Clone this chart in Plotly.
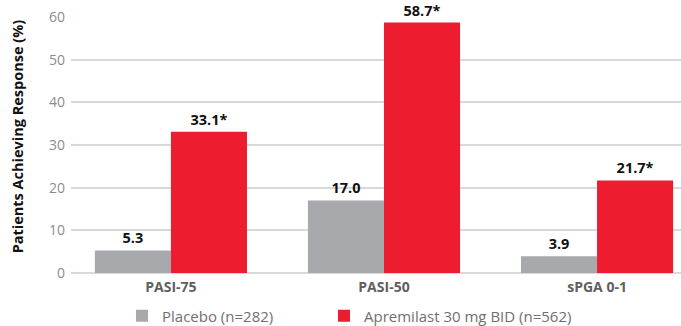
import plotly.graph_objects as go

categories = ["PASI-75", "PASI-50", "sPGA 0-1"]
placebo = [5.3, 17.0, 3.9]
apremilast = [33.1, 58.7, 21.7]
apremilast_marks = ["*", "*", "*"]
series_names = ["Placebo (n=282)", "Apremilast 30 mg BID (n=562)"]
y_ticks = [0, 10, 20, 30, 40, 50, 60]

GRAY = "#A7A9AC"
RED = "#ED1C2E"
FONT = "Open Sans"
W, H = 681, 326

x_pos = list(range(len(categories)))
label_font = dict(family=FONT, size=14.5, color="#111111", weight="bold")

fig = go.Figure()
fig.add_trace(go.Bar(
    x=x_pos, y=placebo, name=series_names[0], legend="legend",
    marker=dict(color=GRAY, line=dict(width=0)),
    text=[f"{v:.1f}" for v in placebo], textposition="outside",
    textfont=label_font, cliponaxis=False,
))
fig.add_trace(go.Bar(
    x=x_pos, y=apremilast, name=series_names[1], legend="legend2",
    marker=dict(color=RED, line=dict(width=0)),
    text=[f"{v:.1f}{m}" for v, m in zip(apremilast, apremilast_marks)],
    textposition="outside",
    textfont=label_font, cliponaxis=False,
))

legend_common = dict(
    orientation="h", xanchor="left", xref="container",
    y=(H - 316) / H, yanchor="middle", yref="container",
    font=dict(family=FONT, size=15, color="#6f6f6f"),
    itemsizing="constant", itemwidth=30,
)

fig.update_layout(
    width=W, height=H,
    margin=dict(l=71, r=0, t=17, b=53, autoexpand=False),
    paper_bgcolor="white", plot_bgcolor="white",
    barmode="group", bargap=0.286, bargroupgap=0,
    font=dict(family=FONT, color="#7f7f7f"),
    showlegend=True,
    legend=dict(x=122 / W, **legend_common),
    legend2=dict(x=324 / W, **legend_common),
    xaxis=dict(
        range=[-0.469, 2.394],
        tickmode="array", tickvals=x_pos, ticktext=categories,
        tickfont=dict(family=FONT, size=14, color="#5f5f5f", weight="bold"),
        showgrid=False, zeroline=False, showline=False, ticks="",
        ticklabelstandoff=4,
    ),
    yaxis=dict(
        range=[0, 60],
        tickmode="array", tickvals=y_ticks,
        tickfont=dict(family=FONT, size=14, color="#8c8c8c"),
        showgrid=True, gridcolor="#d9d9d9", gridwidth=1.5,
        zeroline=True, zerolinecolor="#d9d9d9", zerolinewidth=1.5,
        showline=False, ticks="", ticklabelstandoff=5,
    ),
    annotations=[dict(
        text="Patients Achieving Response (%)",
        xref="paper", yref="paper", x=-0.088, y=0.535,
        xanchor="center", yanchor="middle", textangle=-90, showarrow=False,
        font=dict(family=FONT, size=14.5, color="#111111", weight="bold"),
    )],
)

fig.write_html("out.html")
